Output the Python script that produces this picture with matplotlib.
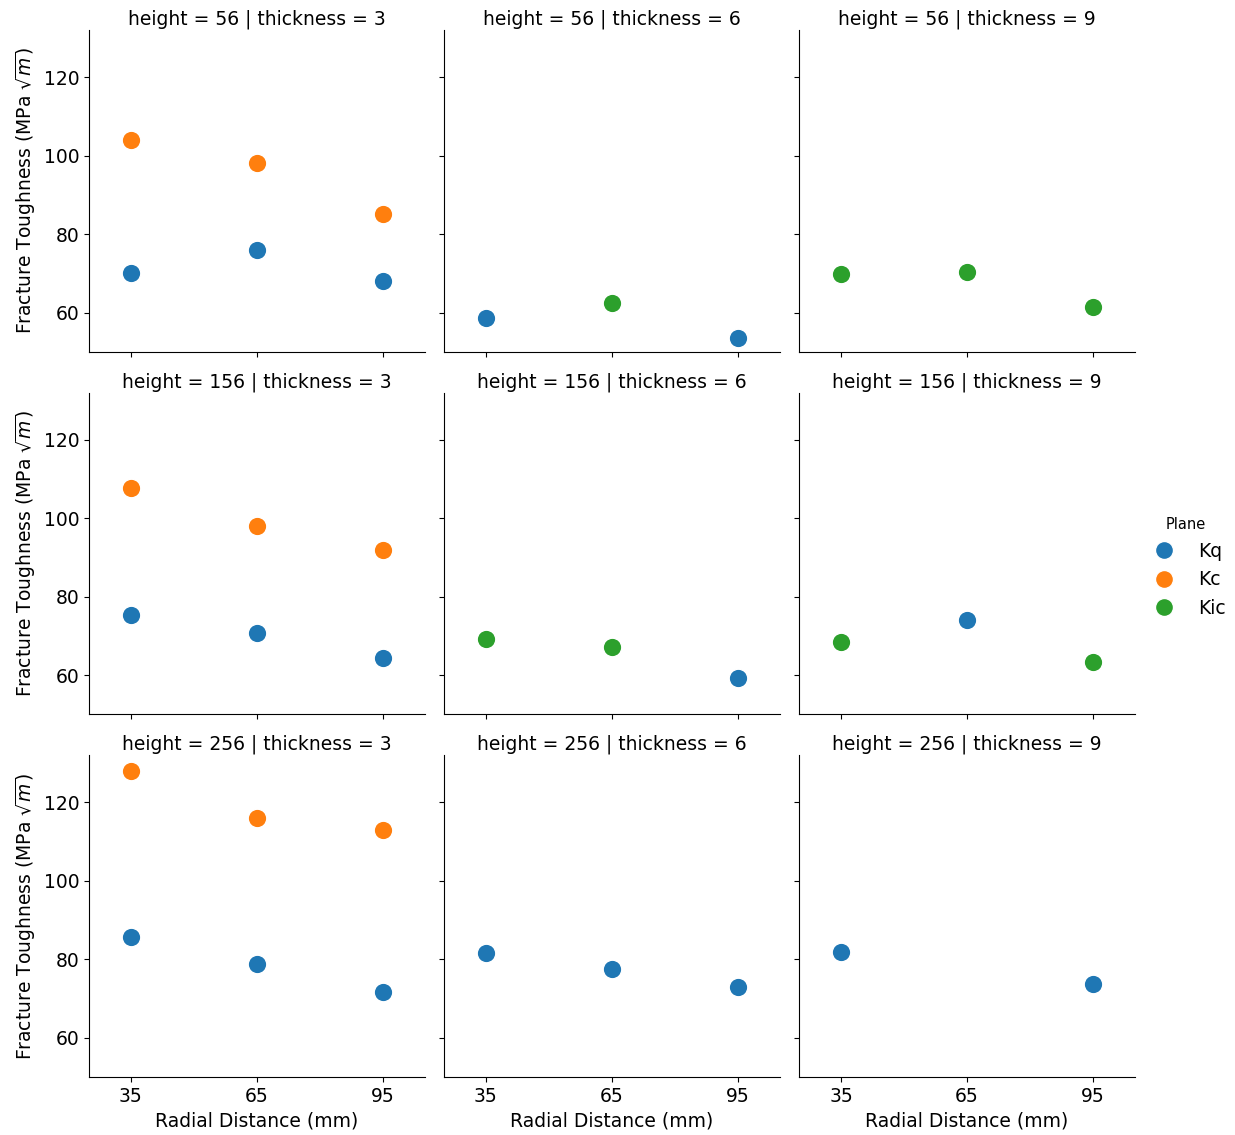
"""Fracture toughness vs radial distance, faceted by specimen height and thickness."""
import numpy as np
import matplotlib
matplotlib.use('Agg')
import matplotlib.pyplot as plt
from matplotlib.lines import Line2D

nan = np.nan

heights = [56, 156, 256]
thicknesses = [3, 6, 9]
radial = [35, 65, 95]
planes = ['Kq', 'Kc', 'Kic']
plane_colors = {'Kq': '#1f77b4', 'Kc': '#ff7f0e', 'Kic': '#2ca02c'}

# values indexed [height][thickness][radial]; nan = no measurement for that plane
kq = [
    [[70.0, 76.0, 68.0], [58.7, nan, 53.6], [nan, nan, nan]],
    [[75.3, 70.7, 64.3], [nan, nan, 59.2], [nan, 74.0, nan]],
    [[85.7, 78.9, 71.7], [81.6, 77.5, 72.9], [81.9, nan, 73.7]],
]
kc = [
    [[104.0, 98.0, 85.2], [nan, nan, nan], [nan, nan, nan]],
    [[107.8, 98.1, 92.0], [nan, nan, nan], [nan, nan, nan]],
    [[127.9, 116.0, 112.9], [nan, nan, nan], [nan, nan, nan]],
]
kic = [
    [[nan, nan, nan], [nan, 62.5, nan], [69.7, 70.4, 61.5]],
    [[nan, nan, nan], [69.2, 67.1, nan], [68.4, nan, 63.3]],
    [[nan, nan, nan], [nan, nan, nan], [nan, nan, nan]],
]
plane_data = {'Kq': kq, 'Kc': kc, 'Kic': kic}


def main():
    fs = 13.5
    plt.rcParams['font.size'] = fs
    fig, axes = plt.subplots(3, 3, figsize=(12.35, 11.35), dpi=100,
                             sharex=True, sharey=True)
    fig.subplots_adjust(left=0.072, right=0.919, bottom=0.051, top=0.9736,
                        wspace=0.0565, hspace=0.127)

    for i, h in enumerate(heights):
        for j, t in enumerate(thicknesses):
            ax = axes[i, j]
            for p in planes:
                vals = np.array(plane_data[p][i][j], dtype=float)
                mask = np.isfinite(vals)
                ax.scatter(np.array(radial)[mask], vals[mask], s=180,
                           color=plane_colors[p], edgecolors='white',
                           linewidth=1.0, zorder=3)
            ax.set_title(f'height = {h} | thickness = {t}', fontsize=fs, pad=4)
            ax.spines['top'].set_visible(False)
            ax.spines['right'].set_visible(False)
            if j == 0:
                ax.set_ylabel(r'Fracture Toughness (MPa $\sqrt{m}$)', fontsize=fs)
            if i == 2:
                ax.set_xlabel('Radial Distance (mm)', fontsize=fs)

    axes[0, 0].set_xlim(25, 105)
    axes[0, 0].set_xticks(radial)
    axes[0, 0].set_ylim(50, 132)
    axes[0, 0].set_yticks([60, 80, 100, 120])

    handles = [Line2D([], [], marker='o', linestyle='', markersize=13,
                      markerfacecolor=plane_colors[p], markeredgecolor='white',
                      label=p) for p in planes]
    fig.legend(handles=handles, title='Plane', loc='center left',
               bbox_to_anchor=(0.914, 0.5), frameon=False, fontsize=fs,
               title_fontsize=10.5, handletextpad=0.8, labelspacing=0.5)

    fig.savefig('out.png', dpi=100)
    plt.close(fig)


if __name__ == "__main__":
    main()
